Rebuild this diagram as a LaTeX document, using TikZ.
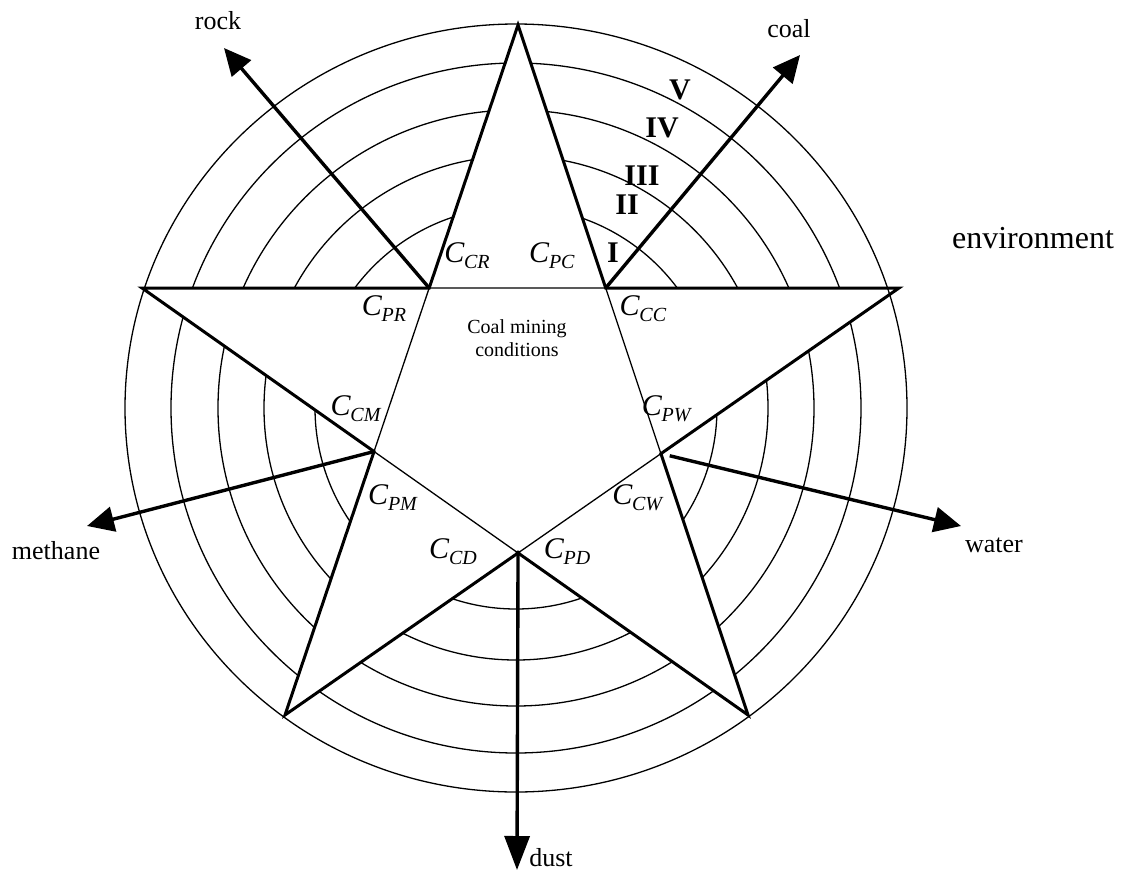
\documentclass[tikz,border=0pt]{standalone}
\usepackage{fontspec}
\setmainfont{Liberation Serif}
\usetikzlibrary{arrows.meta}

% italic C with a lowered italic index
\newcommand{\cidx}[1]{\textit{C}\kern-0.5pt\raisebox{-6pt}{\fontsize{20}{20}\selectfont\textit{#1}}}

\begin{document}
\begin{tikzpicture}[
	% one unit is one pixel of the page, y runs down
	x=1pt, y=-1pt
	]
	% Styles for the rings, the star and the arrows.
	\tikzset{
		ring/.style={line width=1.3pt},
		rim/.style={line width=3pt},
		inner/.style={line width=1.3pt},
		axis/.style={line width=3.4pt, -{Triangle[length=27pt,width=25pt]}},
		lab/.style={font=\fontsize{26}{26}\selectfont},
		cl/.style={font=\fontsize{30}{30}\selectfont, inner sep=0pt},
		grade/.style={font=\fontsize{30}{30}\selectfont\bfseries, inner sep=0pt}
	}
	\useasboundingbox (0,0) rectangle (1127,873);

	% === POINTS ===
	\coordinate (O) at (516,408);
	\coordinate (top) at (518,25);
	\coordinate (left) at (142,288);
	\coordinate (right) at (899,288);
	\coordinate (bl) at (285,715);
	\coordinate (br) at (748,715);
	\coordinate (rockpt) at (intersection of top--bl and left--right);
	\coordinate (coalpt) at (intersection of top--br and left--right);
	\coordinate (methpt) at (intersection of top--bl and left--br);
	\coordinate (watpt) at (intersection of top--br and right--bl);
	\coordinate (dustpt) at (intersection of left--br and right--bl);

	% === RINGS ===
	\foreach \r in {201,252,298,345}
		\draw[ring] (O) circle[radius=\r pt];
	\fill[white] (top) -- (coalpt) -- (right) -- (watpt) -- (br) -- (dustpt)
		-- (bl) -- (methpt) -- (left) -- (rockpt) -- cycle;
	\draw[ring] (O) ellipse[x radius=391pt, y radius=384pt];

	% === STAR ===
	\draw[rim] (top) -- (coalpt) -- (right) -- (watpt) -- (br) -- (dustpt)
		-- (bl) -- (methpt) -- (left) -- (rockpt) -- cycle;
	\draw[inner] (rockpt) -- (coalpt) -- (watpt) -- (dustpt) -- (methpt) -- cycle;
	\fill (dustpt) circle[radius=2.5pt];

	% === NODES ===
	\node[lab] (rock) at (218,21) {rock};
	\node[lab] (coal) at (789,29) {coal};
	\node[lab] (methane) at (56,551) {methane};
	\node[lab] (water) at (994,545) {water};
	\node[lab] (dust) at (551,858) {dust};
	\node[lab, font=\fontsize{32}{32}\selectfont] (env) at (1033,238) {environment};
	\node[font=\fontsize{20}{23}\selectfont, align=center] (cond) at (517,338)
		{Coal mining\\conditions};

	\node[cl] (ccr) at (467,256) {\cidx{CR}};
	\node[cl] (cpc) at (552,256) {\cidx{PC}};
	\node[cl] (cpr) at (384,309) {\cidx{PR}};
	\node[cl] (ccc) at (643,309) {\cidx{CC}};
	\node[cl] (ccm) at (356,409) {\cidx{CM}};
	\node[cl] (cpw) at (667,409) {\cidx{PW}};
	\node[cl] (cpm) at (393,498) {\cidx{PM}};
	\node[cl] (ccw) at (638,498) {\cidx{CW}};
	\node[cl] (ccd) at (453,552) {\cidx{CD}};
	\node[cl] (cpd) at (567,552) {\cidx{PD}};

	\node[grade] (g1) at (613,253) {I};
	\node[grade] (g2) at (627,205) {II};
	\node[grade] (g3) at (642,176) {III};
	\node[grade] (g4) at (662,128) {IV};
	\node[grade] (g5) at (680,90) {V};

	% === ARROWS ===
	\coordinate (rocktip) at (224,48);
	\coordinate (coaltip) at (800,55);
	\coordinate (methtip) at (87,526);
	\coordinate (wattip) at (961,526);
	\coordinate (dusttip) at (517,870);
	\draw[axis] (rockpt) -- (rocktip);
	\draw[axis] (coalpt) -- (coaltip);
	\draw[axis] (methpt) -- (methtip);
	\draw[axis, shorten <=9pt] (watpt) -- (wattip);
	\draw[axis, -{Triangle[length=34pt,width=25pt]}] (dustpt) -- (dusttip);
\end{tikzpicture}
\end{document}
